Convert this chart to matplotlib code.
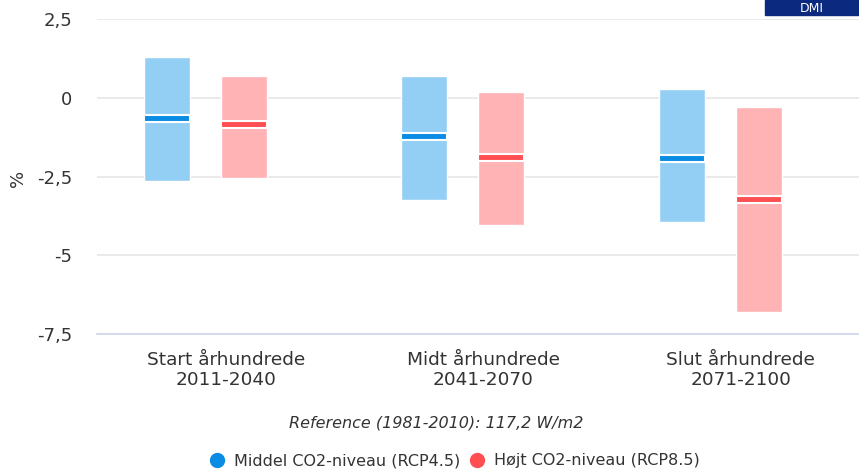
import matplotlib.pyplot as plt
import numpy as np
from matplotlib.lines import Line2D
from matplotlib.patches import Rectangle

# data (% change)
periods = ['Start århundrede\n2011-2040', 'Midt århundrede\n2041-2070', 'Slut århundrede\n2071-2100']
rcp45_low = [-2.63, -3.24, -3.94]
rcp45_high = [1.30, 0.70, 0.29]
rcp45_mid = [-0.65, -1.24, -1.94]
rcp85_low = [-2.54, -4.03, -6.80]
rcp85_high = [0.70, 0.19, -0.29]
rcp85_mid = [-0.84, -1.90, -3.23]
yticks = [2.5, 0, -2.5, -5, -7.5]
ytick_labels = ['2,5', '0', '-2,5', '-5', '-7,5']

light_blue, dark_blue = '#93cff4', '#0a8ce4'
light_red, dark_red = '#ffb3b5', '#ff4f52'

fig = plt.figure(figsize=(8.59, 4.70), dpi=100)
ax = fig.add_axes([97 / 859, 1 - 334 / 470, 1 - 97 / 859, (334 - 19) / 470])

x = np.arange(len(periods))
width = 0.179
band = 0.22


def draw_series(offset, low, high, mid, light, dark):
    xs = x + offset
    ax.bar(xs, np.array(high) - np.array(low), bottom=low, width=width,
           color=light, edgecolor='white', linewidth=1, zorder=3)
    ax.bar(xs, band, bottom=np.array(mid) - band / 2, width=width,
           color=dark, edgecolor='white', linewidth=1.5, zorder=4)


draw_series(-0.229, rcp45_low, rcp45_high, rcp45_mid, light_blue, dark_blue)
draw_series(0.07, rcp85_low, rcp85_high, rcp85_mid, light_red, dark_red)

ax.set_xlim(-0.5, 2.46)
ax.set_ylim(-7.5, 2.5)
ax.set_yticks(yticks)
ax.set_yticklabels(ytick_labels)
ax.set_xticks(x)
ax.set_xticklabels(periods)
ax.tick_params(axis='y', length=0, labelsize=13, labelcolor='#333333', pad=18)
ax.tick_params(axis='x', length=0, labelsize=13.3, labelcolor='#333333', pad=12)
ax.grid(axis='y', color='#e6e6e6', linewidth=1.2, zorder=0)
for s in ['top', 'right', 'left']:
    ax.spines[s].set_visible(False)
ax.spines['bottom'].set_color('#ccd6eb')
ax.spines['bottom'].set_linewidth(1.2)
ax.set_axisbelow(True)

fig.text(18 / 859, 1 - 178 / 470, '%', rotation=90, ha='center', va='center',
         fontsize=13, color='#333333')
fig.text(0.508, 1 - 423 / 470, 'Reference (1981-2010): 117,2 W/m2', ha='center',
         va='center', fontsize=11.5, style='italic', color='#333333')

handles = [Line2D([], [], marker='o', linestyle='', markersize=10, color=dark_blue),
           Line2D([], [], marker='o', linestyle='', markersize=10, color=dark_red)]
fig.legend(handles, ['Middel CO2-niveau (RCP4.5)', 'Højt CO2-niveau (RCP8.5)'],
           loc='center', bbox_to_anchor=(0.529, 1 - 461 / 470), ncol=2, frameon=False,
           fontsize=11.5, handlelength=1, handletextpad=0.6, columnspacing=0.5,
           labelcolor='#333333', borderpad=0.1)

# DMI logo box in the top right corner
fig.patches.append(Rectangle((765 / 859, 1 - 15 / 470), 94 / 859, 15 / 470,
                             transform=fig.transFigure, color='#0b2a7f', zorder=5))
fig.text(812 / 859, 1 - 8 / 470, 'DMI', ha='center', va='center', color='white',
         fontsize=9, zorder=6)

fig.savefig('out.png', dpi=100)
